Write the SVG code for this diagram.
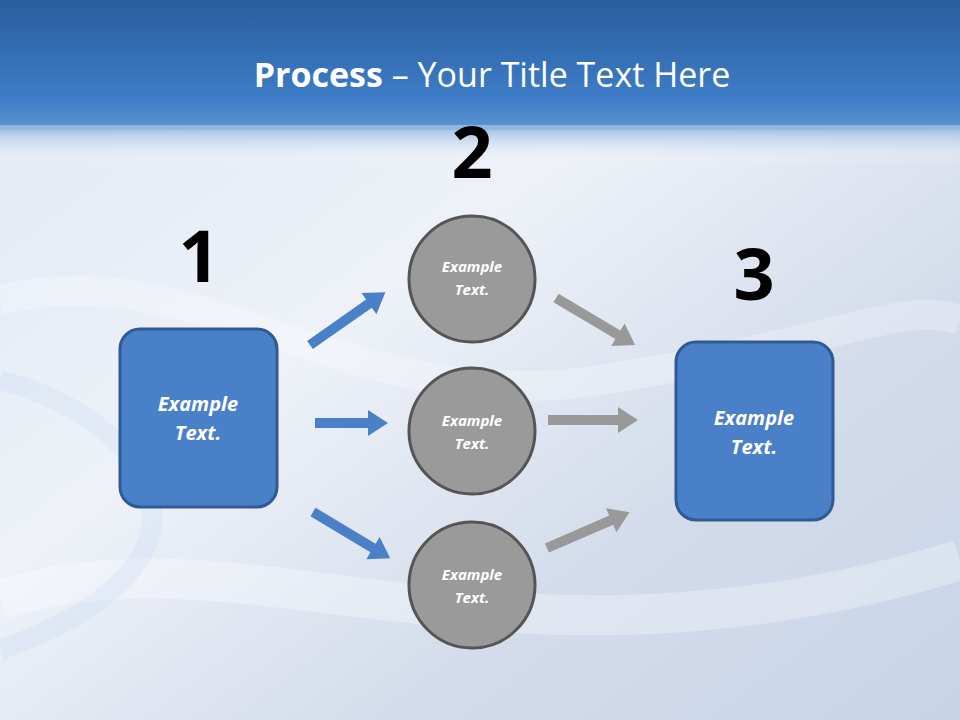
<svg xmlns="http://www.w3.org/2000/svg" width="960" height="720" viewBox="0 0 960 720">
<defs>
<linearGradient id="top" x1="0" y1="0" x2="0" y2="1">
<stop offset="0" stop-color="#2a5e9e"/><stop offset="0.75" stop-color="#3d7cc6"/><stop offset="1" stop-color="#5d94d2"/>
</linearGradient>
<linearGradient id="fade" x1="0" y1="0" x2="0" y2="1">
<stop offset="0" stop-color="#8fb4e0"/><stop offset="1" stop-color="#ffffff" stop-opacity="0"/>
</linearGradient>
<linearGradient id="bg" x1="0" y1="0" x2="1" y2="1">
<stop offset="0" stop-color="#dfe8f4"/><stop offset="0.4" stop-color="#eef2f8"/><stop offset="0.7" stop-color="#d4dceb"/><stop offset="1" stop-color="#c7d4e8"/>
</linearGradient>
<style>
.box{fill:#4a80c8;stroke:#2f5b91;stroke-width:3}
.circ{fill:#9a9a9a;stroke:#555;stroke-width:3}
.t{font-family:"Open Sans","Liberation Sans",sans-serif;font-style:italic;font-weight:bold;fill:#fff;text-anchor:middle}
.num{font-family:"Open Sans","Liberation Sans",sans-serif;font-weight:bold;font-size:72px;fill:#000;text-anchor:middle}
.ba{fill:#4a80c8}
.ga{fill:#999}
</style>
</defs>
<rect width="960" height="720" fill="url(#bg)"/>
<path d="M0 300 C200 250 350 420 600 380 S900 300 960 320" stroke="#ffffff" stroke-width="30" fill="none" opacity="0.25"/>
<path d="M0 600 C250 520 500 700 960 560" stroke="#ffffff" stroke-width="40" fill="none" opacity="0.3"/>
<path d="M0 380 C150 420 250 560 0 650" stroke="#b8d4f2" stroke-width="20" fill="none" opacity="0.2"/>
<rect width="960" height="130" fill="url(#top)"/>
<rect y="125" width="960" height="40" fill="url(#fade)"/>
<text x="492" y="87" font-family="'Open Sans','Liberation Sans',sans-serif" font-size="34" fill="#fff" text-anchor="middle"><tspan font-weight="bold">Process</tspan> – Your Title Text Here</text>
<text class="num" x="199" y="282">1</text>
<text class="num" x="472" y="178">2</text>
<text class="num" x="754" y="300">3</text>
<g id="connectors">
<path class="ba" transform="translate(310,345) rotate(-35)" d="M0 -5 H72 V-13 L92 0 L72 13 V5 H0 Z"/>
<path class="ba" transform="translate(315,423)" d="M0 -5 H53 V-13 L73 0 L53 13 V5 H0 Z"/>
<path class="ba" transform="translate(313,512) rotate(31)" d="M0 -5 H70 V-13 L90 0 L70 13 V5 H0 Z"/>
<path class="ga" transform="translate(556,298) rotate(30.7)" d="M0 -5 H72 V-13 L92 0 L72 13 V5 H0 Z"/>
<path class="ga" transform="translate(548,420)" d="M0 -5 H70 V-13 L90 0 L70 13 V5 H0 Z"/>
<path class="ga" transform="translate(547,548) rotate(-23.4)" d="M0 -5 H70 V-13 L90 0 L70 13 V5 H0 Z"/>
</g>
<g id="n1"><rect class="box" x="120" y="329" width="157" height="178" rx="20"/>
<text class="t" font-size="20" x="198" y="411">Example</text><text class="t" font-size="20" x="198" y="440">Text.</text></g>
<g id="n3"><rect class="box" x="676" y="342" width="157" height="178" rx="20"/>
<text class="t" font-size="20" x="754" y="425">Example</text><text class="t" font-size="20" x="754" y="454">Text.</text></g>
<g id="c1"><circle class="circ" cx="472" cy="279" r="63"/>
<text class="t" font-size="15" x="472" y="272">Example</text><text class="t" font-size="15" x="472" y="295">Text.</text></g>
<g id="c2"><circle class="circ" cx="472" cy="431" r="63"/>
<text class="t" font-size="15" x="472" y="426">Example</text><text class="t" font-size="15" x="472" y="449">Text.</text></g>
<g id="c3"><circle class="circ" cx="472" cy="585" r="63"/>
<text class="t" font-size="15" x="472" y="580">Example</text><text class="t" font-size="15" x="472" y="603">Text.</text></g>
</svg>
